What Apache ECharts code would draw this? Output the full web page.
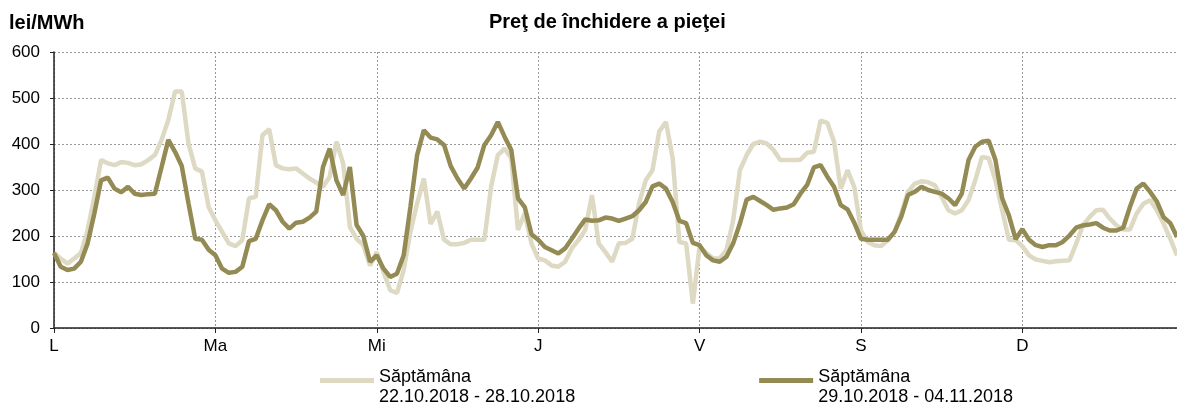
<!DOCTYPE html>
<html>
<head>
<meta charset="utf-8">
<script src="https://cdn.jsdelivr.net/npm/echarts@6/dist/echarts.min.js"></script>
<style>
  html, body { margin: 0; padding: 0; background: #fff; }
  #main { width: 1177px; height: 408px; }
</style>
</head>
<body>
<div id="main"></div>
<script>
// zilele saptamanii (24 ore fiecare)
var days = ['L', 'Ma', 'Mi', 'J', 'V', 'S', 'D'];
var yTicks = [0, 100, 200, 300, 400, 500, 600];

// Saptamana 22.10.2018 - 28.10.2018 (lei/MWh, orar)
var week1 = [
  163, 151, 140, 151, 163, 213, 285, 365, 358, 354, 361, 359, 354, 356, 365, 376, 409, 452, 514, 514, 401, 347, 340, 263,
  234, 209, 184, 178, 191, 282, 285, 419, 432, 354, 347, 345, 347, 336, 325, 316, 307, 329, 405, 358, 220, 194, 180, 136,
  165, 122, 82, 76, 126, 209, 271, 325, 226, 253, 192, 182, 182, 185, 192, 192, 192, 307, 376, 390, 369, 213, 249, 184,
  151, 147, 136, 133, 144, 173, 191, 213, 289, 184, 165, 144, 184, 185, 194, 271, 321, 343, 427, 448, 369, 187, 184, 53,
  176, 163, 151, 151, 169, 234, 343, 376, 400, 405, 401, 387, 365, 365, 365, 366, 381, 383, 451, 446, 405, 303, 343, 307,
  212, 187, 180, 178, 191, 209, 249, 296, 314, 319, 317, 310, 285, 256, 249, 256, 278, 321, 372, 369, 321, 256, 192, 191,
  178, 158, 149, 146, 143, 145, 146, 147, 183, 223, 241, 256, 257, 238, 223, 214, 214, 249, 270, 278, 256, 227, 194, 158
];

// Saptamana 29.10.2018 - 04.11.2018 (lei/MWh, orar)
var week2 = [
  163, 133, 126, 129, 144, 184, 249, 321, 327, 303, 295, 307, 292, 289, 291, 292, 350, 409, 383, 352, 271, 194, 192, 170,
  158, 129, 120, 122, 133, 189, 194, 234, 269, 256, 231, 216, 229, 231, 240, 253, 350, 390, 321, 289, 350, 224, 200, 144,
  158, 129, 111, 118, 158, 263, 376, 430, 414, 410, 398, 352, 325, 303, 325, 349, 398, 419, 448, 416, 387, 282, 263, 204,
  192, 176, 169, 162, 173, 194, 216, 236, 233, 234, 240, 238, 233, 238, 243, 256, 274, 308, 314, 303, 274, 233, 228, 185,
  180, 158, 147, 144, 155, 184, 227, 279, 285, 276, 267, 257, 260, 262, 269, 292, 311, 349, 354, 329, 307, 267, 258, 229,
  194, 192, 192, 192, 192, 209, 242, 289, 296, 307, 300, 296, 292, 282, 267, 292, 365, 394, 405, 407, 365, 282, 245, 193,
  215, 192, 180, 176, 180, 180, 187, 201, 218, 223, 225, 228, 218, 212, 212, 218, 263, 303, 314, 296, 275, 241, 228, 198
];

var categories = [];
days.forEach(function (d) {
  for (var h = 0; h < 24; h++) {
    categories.push(d + ' ' + h);
  }
});

var myChart = echarts.init(document.getElementById('main'));

// linie groasa sus, punct invizibil jos -> iconita aliniata cu primul rand
var lineIcon = 'path://M0,0H54V5H0Z M0,18H0.01V18.01H0Z';

function everyDay(idx) { return idx % 24 === 0; }

var option = {
  animation: false,
  textStyle: { fontFamily: 'Liberation Sans, Arial, sans-serif' },
  title: {
    text: 'Preţ de închidere a pieţei',
    left: 484,
    top: 7,
    textStyle: { fontSize: 20, fontWeight: 'bold', color: '#000' }
  },
  graphic: [{
    type: 'text',
    left: 9,
    top: 13,
    style: { text: 'lei/MWh', font: 'bold 20px Liberation Sans, Arial', fill: '#000' }
  }],
  legend: {
    left: 320,
    top: 367,
    padding: 0,
    itemWidth: 54,
    itemHeight: 18,
    itemGap: 184,
    textStyle: { fontSize: 18, color: '#000', lineHeight: 20 },
    data: [
      { name: 'Săptămâna\n22.10.2018 - 28.10.2018', icon: lineIcon },
      { name: 'Săptămâna\n29.10.2018 - 04.11.2018', icon: lineIcon }
    ]
  },
  grid: { left: 54, right: 0, top: 52, bottom: 80 },
  xAxis: {
    type: 'category',
    boundaryGap: false,
    data: categories,
    axisLine: { lineStyle: { color: '#222', width: 1.5 } },
    axisTick: { length: 5, interval: everyDay, lineStyle: { color: '#222' } },
    axisLabel: {
      interval: everyDay,
      formatter: function (v) { return v.split(' ')[0]; },
      fontSize: 17,
      color: '#000',
      margin: 10
    },
    splitLine: {
      show: true,
      interval: everyDay,
      lineStyle: { color: '#9a9a9a', type: [2, 2], width: 1 }
    }
  },
  yAxis: {
    type: 'value',
    min: yTicks[0],
    max: yTicks[yTicks.length - 1],
    interval: 100,
    axisLine: { show: true, lineStyle: { color: '#222', width: 1.5 } },
    axisTick: { show: true, length: 4, lineStyle: { color: '#222' } },
    axisLabel: { fontSize: 17, color: '#000', margin: 14 },
    splitLine: { lineStyle: { color: '#9a9a9a', type: [2, 2], width: 1 } }
  },
  series: [
    {
      name: 'Săptămâna\n22.10.2018 - 28.10.2018',
      type: 'line',
      data: week1,
      showSymbol: false,
      lineStyle: { color: '#ddd9c3', width: 4.5 },
      itemStyle: { color: '#ddd9c3' }
    },
    {
      name: 'Săptămâna\n29.10.2018 - 04.11.2018',
      type: 'line',
      data: week2,
      showSymbol: false,
      lineStyle: { color: '#948a54', width: 4.5 },
      itemStyle: { color: '#948a54' }
    }
  ]
};

myChart.setOption(option);
</script>
</body>
</html>
